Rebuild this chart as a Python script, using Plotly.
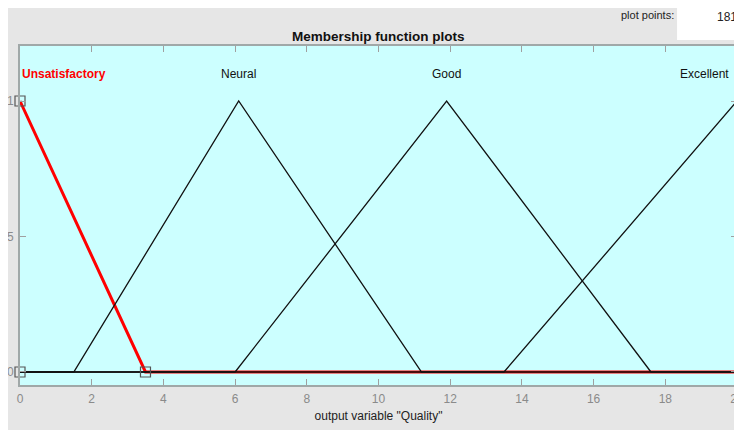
import plotly.graph_objects as go

# Membership functions (vertex points on the 0..20 universe)
mf_names = ["Unsatisfactory", "Neural", "Good", "Excellent"]
unsat_x = [0, 3.5, 20]
unsat_y = [1, 0, 0]
neural_x = [0, 1.5, 6.1, 11.2, 20]
neural_y = [0, 0, 1, 0, 0]
good_x = [0, 6.0, 11.9, 17.6, 20]
good_y = [0, 0, 1, 0, 0]
excel_x = [0, 13.5, 20]
excel_y = [0, 0, 1]
# selected MF parameter handles
handle_x = [0, 0, 3.5]
handle_y = [0, 1, 0]
label_x = [0, 6.1, 11.9, 20]
label_y = [1.1, 1.1, 1.1, 1.1]

x_ticks = list(range(0, 21, 2))
y_ticks = [0, 0.5, 1]
y_ticktext = ["0", "0.5", "1"]

FONT = "Liberation Sans, Arial, Helvetica, sans-serif"

# plot area in figure pixels
L, R, T, B = 11.5, 729.0, 38.0, 377.0
W, H = 742, 430

def px_x(p):
    return (p - L) / (R - L)

def px_y(p):
    return (B - p) / (B - T)

fig = go.Figure()
fig.add_trace(go.Scatter(x=unsat_x, y=unsat_y, mode="lines",
                         line=dict(color="#ff0000", width=3), hoverinfo="skip"))
for xs, ys in [(neural_x, neural_y), (good_x, good_y), (excel_x, excel_y)]:
    fig.add_trace(go.Scatter(x=xs, y=ys, mode="lines",
                             line=dict(color="#111111", width=1.3), hoverinfo="skip"))
fig.add_trace(go.Scatter(x=handle_x, y=handle_y, mode="markers",
                         marker=dict(symbol="square-open", size=10,
                                     color="#555555", line=dict(width=1.2)),
                         hoverinfo="skip", cliponaxis=False))

for i, name in enumerate(mf_names):
    if i == 0:
        xa, xs, col, txt = "left", 0, "#ff0000", "<b>" + name + "</b>"
    elif i == len(mf_names) - 1:
        xa, xs, col, txt = "right", -6, "#111111", name
    else:
        xa, xs, col, txt = "center", 0, "#111111", name
    fig.add_annotation(x=label_x[i], y=label_y[i], text=txt, showarrow=False,
                       xanchor=xa, yanchor="middle", xshift=xs,
                       font=dict(family=FONT, size=12, color=col))

# title and panel texts
fig.add_annotation(xref="paper", yref="paper", x=0.5, y=1.0, yshift=10,
                   text="<b>Membership function plots</b>", showarrow=False,
                   xanchor="center", yanchor="middle",
                   font=dict(family=FONT, size=13.5, color="#111111"))
fig.add_annotation(xref="paper", yref="paper", x=px_x(668), y=1.0,
                   yshift=31, text="plot points:", showarrow=False,
                   xanchor="right", yanchor="middle",
                   font=dict(family=FONT, size=11, color="#222222"))
fig.add_annotation(xref="paper", yref="paper", x=px_x(731), y=1.0,
                   yshift=29, text="181", showarrow=False,
                   xanchor="right", yanchor="middle",
                   font=dict(family=FONT, size=12, color="#222222"))

shapes = [
    # plot points box
    dict(type="rect", xref="paper", yref="paper", x0=px_x(669), x1=px_x(W + 2),
         y0=px_y(32), y1=px_y(-2), fillcolor="white", line=dict(width=0), layer="above"),
]

fig.update_layout(
    width=W, height=H,
    margin=dict(l=L, r=W - R, t=T, b=H - B, autoexpand=False),
    paper_bgcolor="#e6e6e6",
    plot_bgcolor="#ccffff",
    showlegend=False,
    shapes=shapes,
    font=dict(family=FONT),
)
fig.update_xaxes(range=[0, 20], tickvals=x_ticks, ticks="inside", ticklen=6,
                 tickcolor="#a0a0a0", showline=True, linecolor="#a0a8a8",
                 linewidth=1.5, mirror="ticks", showgrid=False, zeroline=False,
                 automargin=False,
                 tickfont=dict(family=FONT, size=12, color="#8a8a8a"),
                 ticklabelstandoff=2,
                 title=dict(text='output variable "Quality"', standoff=6,
                            font=dict(family=FONT, size=12, color="#222222")))
fig.update_yaxes(range=[-0.048, 1.203], tickvals=y_ticks, ticktext=y_ticktext,
                 ticks="inside", ticklen=6, tickcolor="#a0a0a0", showline=True,
                 linecolor="#a0a8a8", linewidth=2, mirror="ticks", showgrid=False,
                 zeroline=False, ticklabelstandoff=2, automargin=False,
                 tickfont=dict(family=FONT, size=12, color="#8a8a8a"))

fig.write_html("out.html")
